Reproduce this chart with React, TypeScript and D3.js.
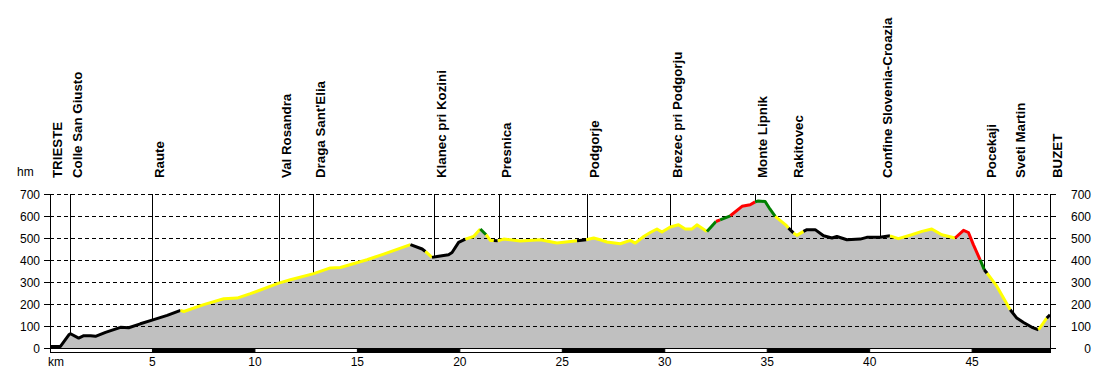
import React from 'react';
import * as d3 from 'd3';

const kms = [
  0, 0.51, 0.92, 1.0, 1.4, 1.65, 1.98, 2.22, 2.71, 3.44,
  3.84, 4.41, 5.06, 5.72, 6.37, 6.53, 7.5, 8.48, 9.13, 9.78,
  11.16, 11.73, 12.87, 13.68, 14.17, 15.47, 16.28, 17.59, 18.16, 18.32,
  18.64, 18.89, 19.45, 19.62, 19.94, 20.27, 20.67, 21.0, 21.28, 21.49,
  21.66, 21.85, 22.14, 22.95, 23.93, 24.74, 25.72, 26.17, 26.53, 26.85,
  27.18, 27.83, 28.32, 28.56, 28.97, 29.29, 29.62, 29.86, 30.27, 30.67,
  31.0, 31.33, 31.57, 32.06, 32.5, 32.7, 33.2, 33.77, 34.17, 34.41,
  34.56, 34.9, 35.13, 35.39, 35.9, 36.04, 36.28, 36.45, 36.77, 36.94,
  37.34, 37.75, 38.16, 38.4, 38.89, 39.54, 39.86, 40.51, 40.99, 41.4,
  42.05, 42.55, 43.03, 43.52, 44.17, 44.58, 44.82, 45.06, 45.39, 45.59,
  45.73, 46.21, 46.86, 47.18, 47.51, 47.92, 48.24, 48.64, 48.8,
];

const elevs = [
  7, 7, 60, 65, 45, 56, 56, 53, 71, 94,
  92, 110, 129, 148, 171, 166, 197, 224, 227, 247,
  295, 310, 338, 364, 366, 401, 427, 470, 450, 439,
  412, 416, 424, 434, 480, 495, 507, 541, 515, 489,
  489, 487, 495, 486, 492, 477, 488, 492, 500, 492,
  482, 474, 489, 477, 507, 525, 541, 527, 550, 560,
  541, 541, 560, 530, 575, 582, 601, 644, 651, 664,
  668, 666, 632, 598, 560, 545, 523, 512, 530, 538,
  538, 510, 500, 507, 492, 495, 503, 503, 510, 497,
  515, 530, 541, 515, 500, 535, 525, 470, 401, 356,
  340, 280, 174, 136, 116, 94, 83, 136, 151,
];

// gradient class of the segment that starts at each point
const grades = [
  'k', 'k', 'k', 'k', 'k', 'k', 'k', 'k', 'k', 'k',
  'k', 'k', 'k', 'k', 'y', 'y', 'y', 'y', 'y', 'y',
  'y', 'y', 'y', 'y', 'y', 'y', 'y', 'k', 'k', 'y',
  'k', 'k', 'k', 'k', 'k', 'y', 'y', 'g', 'y', 'y',
  'k', 'y', 'y', 'y', 'y', 'y', 'k', 'y', 'y', 'y',
  'y', 'y', 'y', 'y', 'y', 'y', 'y', 'y', 'y', 'y',
  'y', 'y', 'y', 'g', 'r', 'g', 'r', 'r', 'r', 'g',
  'g', 'g', 'g', 'y', 'y', 'k', 'y', 'y', 'k', 'k',
  'k', 'k', 'k', 'k', 'k', 'k', 'k', 'k', 'y', 'y',
  'y', 'y', 'y', 'y', 'r', 'r', 'r', 'r', 'g', 'k',
  'y', 'y', 'k', 'k', 'k', 'k', 'y', 'k', 'k',
];

const gradeColors: Record<string, string> = { k: '#000000', y: '#ffff00', g: '#008000', r: '#ff0000' };

const placeNames = [
  'TRIESTE', 'Colle San Giusto', 'Raute', 'Val Rosandra', "Draga Sant'Elia",
  'Klanec pri Kozini', 'Presnica', 'Podgorje', 'Brezec pri Podgorju', 'Monte Lipnik',
  'Rakitovec', 'Confine Slovenia-Croazia', 'Pocekaji', 'Sveti Martin', 'BUZET',
];
const placeKms = [0, 0.96, 5.0, 11.18, 12.84, 18.74, 21.89, 26.2, 30.25, 34.41, 36.14, 40.48, 45.6, 47.01, 48.8];

const yTicks = [0, 100, 200, 300, 400, 500, 600, 700];
const xTicks = [5, 10, 15, 20, 25, 30, 35, 40, 45];
const barStarts = [0, 5, 10, 15, 20, 25, 30, 35, 40, 45];
const totalKm = 48.8;

const FONT = "'Liberation Sans', Arial, sans-serif";

export default function App() {
  const x = d3.scaleLinear().domain([0, totalKm]).range([50, 1050]);
  const y = d3.scaleLinear().domain([0, 700]).range([348, 194]);
  const interp = d3.scaleLinear().domain(kms).range(elevs);

  const pts = kms.map((k, i) => [k, elevs[i]] as [number, number]);
  const area = d3.area<[number, number]>()
    .x(d => x(d[0]))
    .y0(y(0))
    .y1(d => y(d[1]))(pts) || '';
  const line = d3.line<[number, number]>().x(d => x(d[0])).y(d => y(d[1]));

  const runs: { c: string; p: [number, number][] }[] = [];
  for (let i = 0; i < pts.length - 1; i++) {
    const c = grades[i];
    const last = runs[runs.length - 1];
    if (last && last.c === c) last.p.push(pts[i + 1]);
    else runs.push({ c, p: [pts[i], pts[i + 1]] });
  }

  return (
    <svg width={1100} height={371} style={{ position: 'absolute', left: 0, top: 0, background: '#fff' }}
      fontFamily={FONT}>
      <rect x={0} y={0} width={1100} height={371} fill="#fff" />
      <path d={area} fill="#c0c0c0" />
      {yTicks.filter(v => v > 0).map(v => (
        <line key={'g' + v} x1={50} x2={1050} y1={y(v) + 0.5} y2={y(v) + 0.5}
          stroke="#000" strokeWidth={1} strokeDasharray="4,3" />
      ))}
      {yTicks.map(v => (
        <g key={'t' + v}>
          <line x1={44} x2={50} y1={y(v) + 0.5} y2={y(v) + 0.5} stroke="#000" />
          <line x1={1050} x2={1056} y1={y(v) + 0.5} y2={y(v) + 0.5} stroke="#000" />
          <text x={40} y={y(v) + 4.5} fontSize={12} textAnchor="end">{v}</text>
          <text x={1091} y={y(v) + 4.5} fontSize={12} textAnchor="end">{v}</text>
        </g>
      ))}
      <line x1={50.5} x2={50.5} y1={y(700)} y2={y(0)} stroke="#000" />
      <line x1={1050.5} x2={1050.5} y1={y(700)} y2={y(0)} stroke="#000" />
      {placeNames.map((n, i) => {
        const px = Math.round(x(placeKms[i])) + 0.5;
        return (
          <g key={n}>
            <line x1={px} x2={px} y1={y(700)} y2={y(interp(placeKms[i]))} stroke="#000" strokeWidth={1} />
            <text transform={`translate(${px + 11},178) rotate(-90)`} fontSize={13.3} fontWeight="bold">{n}</text>
          </g>
        );
      })}
      {runs.map((r, i) => (
        <path key={'r' + i} d={line(r.p) || ''} fill="none" stroke={gradeColors[r.c]}
          strokeWidth={3} strokeLinejoin="round" strokeLinecap="butt" />
      ))}
      <rect x={50.5} y={348.5} width={1000} height={4} fill="#fff" stroke="#000" />
      {barStarts.map((s, i) => i % 2 === 1 ? (
        <rect key={'b' + s} x={x(s)} y={348.5} width={x(Math.min(s + 5, totalKm)) - x(s)} height={4} fill="#000" stroke="#000" />
      ) : null)}
      {xTicks.map(v => (
        <text key={'x' + v} x={x(v)} y={366} fontSize={12} textAnchor="middle">{v}</text>
      ))}
      <text x={48} y={366} fontSize={12}>km</text>
      <text x={17} y={176} fontSize={12}>hm</text>
    </svg>
  );
}
